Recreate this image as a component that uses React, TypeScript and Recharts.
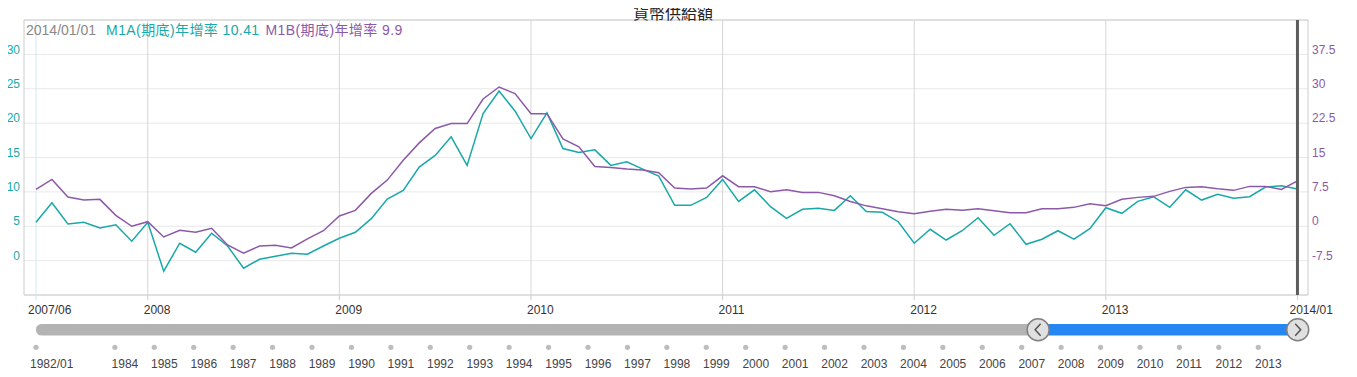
import React from 'react';
import { ComposedChart, Line, XAxis, YAxis, CartesianGrid, ReferenceLine, ReferenceArea, ReferenceDot } from 'recharts';

const months = [
  '2007/06','2007/07','2007/08','2007/09','2007/10','2007/11','2007/12',
  '2008/01','2008/02','2008/03','2008/04','2008/05','2008/06','2008/07','2008/08','2008/09','2008/10','2008/11','2008/12',
  '2009/01','2009/02','2009/03','2009/04','2009/05','2009/06','2009/07','2009/08','2009/09','2009/10','2009/11','2009/12',
  '2010/01','2010/02','2010/03','2010/04','2010/05','2010/06','2010/07','2010/08','2010/09','2010/10','2010/11','2010/12',
  '2011/01','2011/02','2011/03','2011/04','2011/05','2011/06','2011/07','2011/08','2011/09','2011/10','2011/11','2011/12',
  '2012/01','2012/02','2012/03','2012/04','2012/05','2012/06','2012/07','2012/08','2012/09','2012/10','2012/11','2012/12',
  '2013/01','2013/02','2013/03','2013/04','2013/05','2013/06','2013/07','2013/08','2013/09','2013/10','2013/11','2013/12',
  '2014/01',
];

// M1A(期底)年增率 (left axis)
const m1a = [
  5.57, 8.42, 5.33, 5.57, 4.75, 5.22, 2.82, 5.57, -1.54, 2.53,
  1.22, 3.98, 2.13, -1.10, 0.20, 0.64, 1.07, 0.93, 2.13, 3.25,
  4.12, 6.10, 8.96, 10.22, 13.60, 15.30, 18.00, 13.85, 21.39, 24.67,
  21.77, 17.76, 21.48, 16.31, 15.73, 16.11, 13.85, 14.37, 13.31, 12.29,
  8.04, 8.04, 9.20, 11.81, 8.62, 10.30, 7.84, 6.15, 7.46, 7.61,
  7.31, 9.43, 7.14, 7.02, 5.66, 2.53, 4.56, 3.00, 4.35, 6.24,
  3.69, 5.37, 2.38, 3.11, 4.35, 3.11, 4.64, 7.69, 6.88, 8.62,
  9.29, 7.75, 10.30, 8.81, 9.64, 9.06, 9.29, 10.70, 10.89, 10.41,
];

// M1B(期底)年增率 (right axis)
const m1b = [
  8.04, 10.22, 6.37, 5.71, 5.87, 2.39, 0.0, 0.99, -2.34, -0.88,
  -1.32, -0.45, -4.08, -5.89, -4.30, -4.15, -4.73, -2.77, -0.97, 2.23,
  3.47, 7.17, 10.07, 14.42, 18.19, 21.32, 22.41, 22.41, 27.77, 30.38,
  28.94, 24.57, 24.57, 19.06, 17.32, 13.05, 12.83, 12.47, 12.25, 11.66,
  8.33, 8.11, 8.33, 11.01, 8.63, 8.63, 7.52, 7.95, 7.39, 7.39,
  6.65, 5.39, 4.45, 3.82, 3.17, 2.73, 3.26, 3.69, 3.47, 3.82,
  3.39, 2.95, 2.95, 3.82, 3.82, 4.12, 4.91, 4.47, 5.87, 6.30,
  6.52, 7.61, 8.48, 8.61, 8.18, 7.83, 8.70, 8.70, 8.04, 9.90,
];

const xTickMonths = ['2007/06','2008/01','2009/01','2010/01','2011/01','2012/01','2013/01','2014/01'];
const xTickLabels = ['2007/06','2008','2009','2010','2011','2012','2013','2014/01'];
const leftTicks = [0, 5, 10, 15, 20, 25, 30];
const rightTicks = [-7.5, 0, 7.5, 15, 22.5, 30, 37.5];

const navYears = [1982, 1984, 1985, 1986, 1987, 1988, 1989, 1990, 1991, 1992, 1993, 1994, 1995, 1996, 1997, 1998, 1999, 2000, 2001, 2002, 2003, 2004, 2005, 2006, 2007, 2008, 2009, 2010, 2011, 2012, 2013];
const navLabels = ['1982/01', '1984', '1985', '1986', '1987', '1988', '1989', '1990', '1991', '1992', '1993', '1994', '1995', '1996', '1997', '1998', '1999', '2000', '2001', '2002', '2003', '2004', '2005', '2006', '2007', '2008', '2009', '2010', '2011', '2012', '2013'];
const navStart = 1982;
const navEnd = 2014;
const selStart = 2007 + 5 / 12;
const selEnd = 2014;

const legendDate = '2014/01/01';
const legendA = 'M1A(期底)年增率';
const legendB = 'M1B(期底)年增率';
const lastA = '10.41';
const lastB = '9.9';
const title = '貨幣供給額';

const TEAL = '#19a8a8';
const PURPLE = '#8c59a9';
const FONT = "'Liberation Sans', Arial, 'Noto Sans CJK TC', sans-serif";

const data = months.map((m, i) => ({ i, month: m, m1a: m1a[i], m1b: m1b[i] }));
const tickIdx = xTickMonths.map((m) => months.indexOf(m));
const navData = navYears.map((y) => ({ year: y }));

const LeftTick = (p: any) => (
  <text x={p.x} y={p.y - 5} dy="0.35em" textAnchor="end" fill={TEAL} fontSize={12} fontFamily={FONT}>
    {p.payload.value}
  </text>
);
const RightTick = (p: any) => (
  <text x={p.x} y={p.y - 5} dy="0.35em" textAnchor="start" fill={PURPLE} fontSize={12} fontFamily={FONT}>
    {p.payload.value}
  </text>
);
const BottomTick = (p: any) => {
  const k = tickIdx.indexOf(p.payload.value);
  const label = xTickLabels[k] ?? '';
  const dx = label.length > 4 ? -8 : -4;
  return (
    <g>
      <line x1={p.x} x2={p.x} y1={295} y2={300} stroke={k === 0 ? '#cfe6f2' : '#cccccc'} />
      <text x={p.x + dx} y={310} dy="0.35em" textAnchor="start" fill="#333" fontSize={12} fontFamily={FONT}>
        {label}
      </text>
    </g>
  );
};
const NavTick = (p: any) => {
  const k = navYears.indexOf(p.payload.value);
  const label = navLabels[k] ?? '';
  const dx = label.length > 4 ? -6 : -3.3;
  return (
    <g>
      <circle cx={p.x} cy={347.3} r={2.6} fill="#bdbdbd" />
      <text x={p.x + dx} y={363.3} dy="0.35em" textAnchor="start" fill="#444" fontSize={12} fontFamily={FONT}>
        {label}
      </text>
    </g>
  );
};
const Handle = (dir: 'l' | 'r') => (p: any) => {
  const { cx, cy } = p;
  const s = dir === 'l' ? 1 : -1;
  return (
    <g>
      <circle cx={cx} cy={cy} r={11} fill="#e0e0e0" stroke="#808080" strokeWidth={1.5} />
      <path d={`M${cx + 2.5 * s},${cy - 6} L${cx - 3 * s},${cy} L${cx + 2.5 * s},${cy + 6}`} fill="none" stroke="#555" strokeWidth={1.5} />
    </g>
  );
};
const GreyBar = (p: any) => <rect x={p.x} y={p.y} width={p.width} height={p.height} rx={5.5} ry={5.5} fill="#b3b3b3" />;
const BlueBar = (p: any) => <rect x={p.x} y={p.y} width={p.width} height={p.height} fill="#2787f2" />;

export default function App() {
  return (
    <div style={{ position: 'relative', width: 1357, height: 377, margin: -8, background: '#fff', overflow: 'hidden' }}>
      <div style={{ position: 'absolute', left: 2, top: 0, width: 1336, height: 377, borderTop: '1px solid #aaa', borderLeft: '1px solid #aaa', boxSizing: 'border-box' }} />
      <div style={{ position: 'absolute', left: 0, top: 0 }}>
        <ComposedChart width={1357} height={377} data={data} margin={{ top: 20, right: 0, bottom: 0, left: 0 }}>
          <CartesianGrid yAxisId="left" vertical={false} stroke="#e8e8e8" />
          <XAxis dataKey="i" type="number" domain={[-0.75, 79.66]} allowDataOverflow ticks={tickIdx} height={82}
            axisLine={false} tickLine={false} tickSize={0} tickMargin={0} tick={<BottomTick />} interval={0} />
          <YAxis yAxisId="left" orientation="left" width={24} domain={[-5, 35]} ticks={leftTicks} allowDataOverflow
            axisLine={false} tickLine={false} tickSize={0} tickMargin={4} tick={<LeftTick />} interval={0} />
          <YAxis yAxisId="right" orientation="right" width={49} domain={[-15, 45]} ticks={rightTicks} allowDataOverflow
            axisLine={false} tickLine={false} tickSize={0} tickMargin={4} tick={<RightTick />} interval={0} />
          <ReferenceArea yAxisId="left" x1={-0.75} x2={79.66} y1={-5} y2={35} fill="none" stroke="#cccccc" strokeWidth={1} ifOverflow="visible" />
          {tickIdx.slice(1, -1).map((t) => (
            <ReferenceLine key={t} yAxisId="left" x={t} stroke="#d6d6d6" strokeWidth={1} />
          ))}
          <ReferenceLine yAxisId="left" x={tickIdx[0]} stroke="#d3eaf5" strokeWidth={1} />
          <Line yAxisId="left" dataKey="m1a" stroke={TEAL} strokeWidth={1.5} dot={false} isAnimationActive={false} />
          <Line yAxisId="right" dataKey="m1b" stroke={PURPLE} strokeWidth={1.5} dot={false} isAnimationActive={false} />
          <ReferenceLine yAxisId="left" x={tickIdx[tickIdx.length - 1]} stroke="#5c5c5c" strokeWidth={3} />
        </ComposedChart>
      </div>
      <div style={{ position: 'absolute', left: 0, top: 0 }}>
        <ComposedChart width={1357} height={377} data={navData} margin={{ top: 324, right: 59.3, bottom: 0, left: 36 }}>
          <XAxis xAxisId="nav" dataKey="year" type="number" domain={[navStart, navEnd]} allowDataOverflow ticks={navYears} height={41.5}
            axisLine={false} tickLine={false} tickSize={0} tickMargin={0} tick={<NavTick />} interval={0} />
          <YAxis yAxisId="nav" type="number" hide width={0} domain={[0, 1]} allowDataOverflow />
          <ReferenceArea xAxisId="nav" yAxisId="nav" x1={navStart} x2={selStart} y1={0} y2={1} shape={GreyBar} ifOverflow="visible" />
          <ReferenceArea xAxisId="nav" yAxisId="nav" x1={selStart} x2={selEnd} y1={0} y2={1} shape={BlueBar} ifOverflow="visible" />
          <ReferenceDot xAxisId="nav" yAxisId="nav" x={selStart} y={0.5} r={11} shape={Handle('l')} ifOverflow="visible" />
          <ReferenceDot xAxisId="nav" yAxisId="nav" x={selEnd} y={0.5} r={11} shape={Handle('r')} ifOverflow="visible" />
        </ComposedChart>
      </div>
      <svg width={1357} height={24} style={{ position: 'absolute', left: 0, top: 0 }}>
        <text x={673} y={18.7} textAnchor="middle" fontSize={16} fill="#222" fontFamily="'Noto Sans CJK TC', sans-serif">
          {title}
        </text>
      </svg>
      <div style={{ position: 'absolute', left: 26, top: 21, height: 18, lineHeight: '18px', fontSize: 14, fontFamily: FONT, whiteSpace: 'nowrap' }}>
        <span style={{ color: '#888' }}>{legendDate}</span>
        <span style={{ color: TEAL, marginLeft: 10, letterSpacing: 0.4 }}>{legendA} {lastA}</span>
        <span style={{ color: PURPLE, marginLeft: 6, letterSpacing: 0.4 }}>{legendB} {lastB}</span>
      </div>
    </div>
  );
}
